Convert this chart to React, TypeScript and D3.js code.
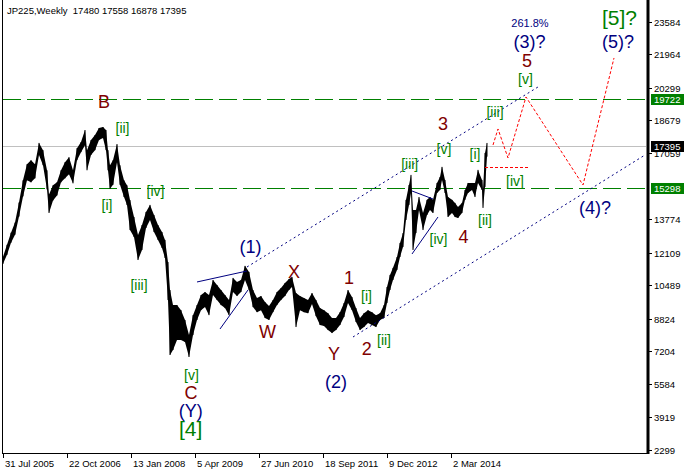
import React, { useEffect, useRef } from 'react';
import * as d3 from 'd3';

// JP225 weekly, sampled roughly every 4 weeks. week 0 = 31 Jul 2005
const weeks = [
  0, 4, 8, 12, 16, 20, 24, 28, 32, 36, 40, 44, 46, 50, 54, 58, 62, 66, 70, 74,
  78, 82, 84, 88, 92, 96, 100, 103, 105, 107, 110, 114, 117, 121, 124, 127, 131, 135, 139, 143,
  147, 151, 155, 159, 162, 165, 167, 170, 174, 178, 182, 186, 190, 194, 198, 202, 206, 210, 214, 218,
  222, 226, 230, 234, 238, 242, 246, 250, 254, 258, 262, 266, 270, 274, 278, 282, 286, 289, 293, 297,
  301, 305, 309, 313, 317, 321, 325, 329, 333, 337, 341, 345, 349, 353, 357, 361, 365, 369, 373, 377,
  381, 384, 387, 390, 394, 397, 400, 403, 406, 408, 410, 413, 416, 420, 424, 427, 430, 434, 437, 439,
  442, 445, 449, 452, 455, 459, 462, 465, 469, 472, 475, 479, 480, 482, 484,
];
const highs = [
  11900, 12500, 13100, 13600, 14600, 15700, 16500, 16700, 16500, 17560, 17200, 16200, 15000, 15450, 15600, 16200, 16600, 16850, 16200, 17300,
  17600, 18200, 17200, 17700, 17950, 18300, 18350, 18200, 17200, 16450, 16700, 17500, 16450, 15700, 15450, 14720, 13880, 12980, 13480, 14130,
  14480, 13980, 13480, 13130, 12740, 11640, 10250, 9500, 9500, 9250, 8760, 8010, 9000, 9500, 10000, 10150, 10000, 10750, 10500, 10250,
  10000, 9750, 10850, 10650, 10750, 11450, 11150, 10250, 9850, 9950, 9650, 9450, 9750, 10150, 10350, 10600, 10800, 10900, 10100, 9950,
  9850, 9750, 10100, 9750, 9350, 9250, 9100, 8860, 8860, 9150, 9600, 10250, 9900, 9350, 8860, 9100, 9250, 9150, 9000, 9100,
  9500, 10400, 11000, 11350, 11890, 12590, 13080, 14730, 15470, 15970, 14230, 14230, 14870, 14080, 14730, 14870, 14730, 15570, 15870, 16370,
  15720, 14870, 14730, 14580, 14380, 14580, 15220, 15570, 15570, 15570, 16220, 15720, 15220, 17060, 17558,
];
const lows = [
  11550, 12000, 12600, 13000, 13900, 14900, 15700, 15600, 15800, 16960, 16450, 15250, 14080, 14700, 14950, 15600, 15800, 16000, 15550, 16700,
  17100, 17450, 16200, 16960, 17200, 17700, 17800, 17200, 16200, 15280, 15480, 16600, 15480, 14870, 14470, 13230, 12880, 11740, 12240, 13330,
  13730, 13130, 12740, 12340, 11840, 9750, 7020, 7270, 7770, 7770, 7670, 6920, 8010, 8760, 9250, 9400, 9000, 10000, 9750, 9500,
  9350, 9000, 10150, 9950, 10150, 10750, 10250, 9400, 9150, 9250, 8860, 8760, 9150, 9500, 9750, 9950, 10250, 10400, 8410, 9250,
  9150, 9100, 9550, 8950, 8510, 8460, 8260, 8110, 8260, 8510, 8910, 9600, 9250, 8660, 8260, 8410, 8610, 8510, 8410, 8760,
  8860, 9600, 10250, 10750, 11250, 11890, 12390, 13730, 14480, 15070, 12240, 13080, 14230, 13230, 13980, 14230, 14080, 15070, 15220, 15720,
  15070, 13880, 14080, 13880, 13830, 14080, 14730, 15070, 15220, 14870, 15570, 15220, 14330, 15370, 16878,
];

const dateTickWeeks = [0, 64, 128, 192, 256, 320, 384, 448];
const dateTickLabels = [
  '31 Jul 2005', '22 Oct 2006', '13 Jan 2008', '5 Apr 2009',
  '27 Jun 2010', '18 Sep 2011', '9 Dec 2012', '2 Mar 2014',
];
const priceTicks = [23584, 21964, 20299, 18679, 17059, 13774, 12109, 10489, 8824, 7204, 5584, 3919, 2299];

const levels = [19722, 15298];
const lastPrice = 17395;
const title = 'JP225,Weekly  17480 17558 16878 17395';

// [text, week, price, degree]
const waveLabels: [string, number, number, string][] = [
  ['B', 101, 19300, 'inter'],
  ['[ii]', 119.5, 18050, 'minor'],
  ['[i]', 104, 14230, 'minor'],
  ['[iv]', 152.5, 14920, 'minor'],
  ['[iii]', 136, 10250, 'minor'],
  ['[v]', 188.5, 5780, 'minor'],
  ['C', 188, 4830, 'inter'],
  ['(Y)', 187.7, 3960, 'primary'],
  ['[4]', 187.7, 3000, 'cycle'],
  ['(1)', 247.5, 12070, 'primary'],
  ['W', 264.5, 7870, 'inter'],
  ['X', 291, 10850, 'inter'],
  ['Y', 331, 6770, 'inter'],
  ['(2)', 333, 5400, 'primary'],
  ['1', 346, 10550, 'inter'],
  ['[i]', 363.5, 9700, 'minor'],
  ['2', 363.7, 7020, 'inter'],
  ['[ii]', 381, 7520, 'minor'],
  ['[iii]', 406.7, 16270, 'minor'],
  ['3', 440, 18200, 'inter'],
  ['[v]', 441, 17010, 'minor'],
  ['[iv]', 435.5, 12540, 'minor'],
  ['4', 460.5, 12590, 'inter'],
  ['[i]', 472, 16760, 'minor'],
  ['[ii]', 482, 13480, 'minor'],
  ['[iii]', 492, 18850, 'minor'],
  ['[iv]', 512, 15420, 'minor'],
  ['[v]', 522.5, 20490, 'minor'],
  ['5', 524, 21330, 'inter'],
  ['(3)?', 526.5, 22280, 'primary'],
  ['261.8%', 527, 23320, 'note'],
  ['[5]?', 616.5, 23400, 'cycle'],
  ['(5)?', 615, 22280, 'primary'],
  ['(4)?', 592, 14030, 'primary'],
];

// channel lines (dotted) and wedge lines (solid): [w1, p1, w2, p2]
const channels = [
  [244, 11394, 535, 20340],
  [350, 7915, 642, 16960],
];
const wedges = [
  [194, 10649, 244, 11195],
  [217, 8313, 245, 10251],
  [409, 15171, 430, 14774],
  [409, 12040, 435, 13879],
];
// projected path
const projWeeks = [490, 495, 505, 523, 580, 611];
const projPrices = [17457, 18253, 16811, 19843, 15469, 21781];
const projLevel = [482, 527, 16364];

const degreeStyle: Record<string, { color: string; size: number }> = {
  minor: { color: '#008000', size: 14 },
  inter: { color: '#800000', size: 18 },
  primary: { color: '#000080', size: 18 },
  cycle: { color: '#008000', size: 21 },
  note: { color: '#000080', size: 11 },
};

const FONT = '"Liberation Sans", Arial, sans-serif';

const App = () => {
  const ref = useRef<SVGSVGElement>(null);

  useEffect(() => {
    const svg = d3.select(ref.current);
    svg.selectAll('*').remove();

    const x = d3.scaleLinear().domain([0, 644]).range([3, 647]);
    const y = d3.scaleLinear().domain([2299, 23584]).range([450, 21.7]);

    svg.append('rect').attr('width', 688).attr('height', 472).attr('fill', '#fff');

    const plot = svg.append('g');
    svg.append('clipPath').attr('id', 'plotclip')
      .append('rect').attr('x', 3).attr('y', 0).attr('width', 643).attr('height', 453);
    plot.attr('clip-path', 'url(#plotclip)');

    // price line
    plot.append('line')
      .attr('x1', 3).attr('x2', 647)
      .attr('y1', Math.round(y(lastPrice)) + 0.5).attr('y2', Math.round(y(lastPrice)) + 0.5)
      .attr('stroke', '#c0c0c0');

    // horizontal levels
    levels.forEach((lv) => {
      plot.append('line')
        .attr('x1', 3).attr('x2', 647)
        .attr('y1', Math.round(y(lv)) + 0.5).attr('y2', Math.round(y(lv)) + 0.5)
        .attr('stroke', '#008000')
        .attr('stroke-dasharray', '18,6');
    });

    // bars
    const idx = d3.range(weeks.length);
    const area = d3.area<number>()
      .x((i) => x(weeks[i]))
      .y0((i) => y(lows[i]))
      .y1((i) => y(highs[i]));
    plot.append('path')
      .attr('d', area(idx))
      .attr('fill', '#000');
    plot.selectAll('line.bar')
      .data(idx)
      .enter()
      .append('line')
      .attr('class', 'bar')
      .attr('x1', (i) => x(weeks[i]))
      .attr('x2', (i) => x(weeks[i]))
      .attr('y1', (i) => y(highs[i]))
      .attr('y2', (i) => y(lows[i]))
      .attr('stroke', '#000');

    // channel + wedge lines
    channels.forEach((c) => {
      plot.append('line')
        .attr('x1', x(c[0])).attr('y1', y(c[1]))
        .attr('x2', x(c[2])).attr('y2', y(c[3]))
        .attr('stroke', '#000080')
        .attr('stroke-dasharray', '2,3');
    });
    wedges.forEach((c) => {
      plot.append('line')
        .attr('x1', x(c[0])).attr('y1', y(c[1]))
        .attr('x2', x(c[2])).attr('y2', y(c[3]))
        .attr('stroke', '#000080');
    });

    // projection
    const proj = d3.line<number>()
      .x((i) => x(projWeeks[i]))
      .y((i) => y(projPrices[i]));
    plot.append('path')
      .attr('d', proj(d3.range(projWeeks.length)))
      .attr('fill', 'none')
      .attr('stroke', '#ff0000')
      .attr('stroke-dasharray', '3,2');
    plot.append('line')
      .attr('x1', x(projLevel[0])).attr('x2', x(projLevel[1]))
      .attr('y1', Math.round(y(projLevel[2])) + 0.5).attr('y2', Math.round(y(projLevel[2])) + 0.5)
      .attr('stroke', '#ff0000')
      .attr('stroke-dasharray', '3,2');

    // wave labels
    waveLabels.forEach(([t, w, p, deg]) => {
      const st = degreeStyle[deg];
      plot.append('text')
        .attr('x', x(w))
        .attr('y', y(p))
        .attr('text-anchor', 'middle')
        .style('font-family', FONT)
        .style('font-size', `${st.size}px`)
        .attr('fill', st.color)
        .text(t);
    });

    // frame
    svg.append('line').attr('x1', 2.5).attr('x2', 2.5).attr('y1', 0).attr('y2', 453.5).attr('stroke', '#000');
    svg.append('line').attr('x1', 2).attr('x2', 648).attr('y1', 453.5).attr('y2', 453.5).attr('stroke', '#000');
    svg.append('line').attr('x1', 648).attr('x2', 648).attr('y1', 0).attr('y2', 454).attr('stroke', '#000').attr('stroke-width', 3);

    // price axis
    priceTicks.forEach((v) => {
      const py = Math.round(y(v)) + 0.5;
      svg.append('line').attr('x1', 649).attr('x2', 652).attr('y1', py).attr('y2', py).attr('stroke', '#000');
      svg.append('text')
        .attr('x', 654).attr('y', py + 3.5)
        .style('font-family', FONT).style('font-size', '9.5px')
        .attr('fill', '#000')
        .text(v);
    });

    const tag = (v: number, bg: string) => {
      const py = Math.round(y(v));
      svg.append('rect').attr('x', 651).attr('y', py - 5).attr('width', 33).attr('height', 11).attr('fill', bg);
      svg.append('text')
        .attr('x', 654).attr('y', py + 4)
        .style('font-family', FONT).style('font-size', '9.5px')
        .attr('fill', '#fff')
        .text(v);
    };
    levels.forEach((lv) => tag(lv, '#008000'));
    tag(lastPrice, '#000');

    // date axis
    dateTickWeeks.forEach((w, i) => {
      const px = Math.round(x(w)) + 0.5;
      svg.append('line').attr('x1', px).attr('x2', px).attr('y1', 454).attr('y2', 458).attr('stroke', '#000');
      svg.append('text')
        .attr('x', px + 1.5).attr('y', 467)
        .style('font-family', FONT).style('font-size', '9.5px')
        .attr('fill', '#000')
        .text(dateTickLabels[i]);
    });

    // title
    svg.append('text')
      .attr('x', 7).attr('y', 14)
      .style('font-family', FONT).style('font-size', '9.5px')
      .style('white-space', 'pre')
      .attr('fill', '#000')
      .text(title);
  }, []);

  return (
    <svg
      ref={ref}
      width={688}
      height={472}
      style={{ position: 'absolute', left: 0, top: 0, display: 'block' }}
    />
  );
};

export default App;
